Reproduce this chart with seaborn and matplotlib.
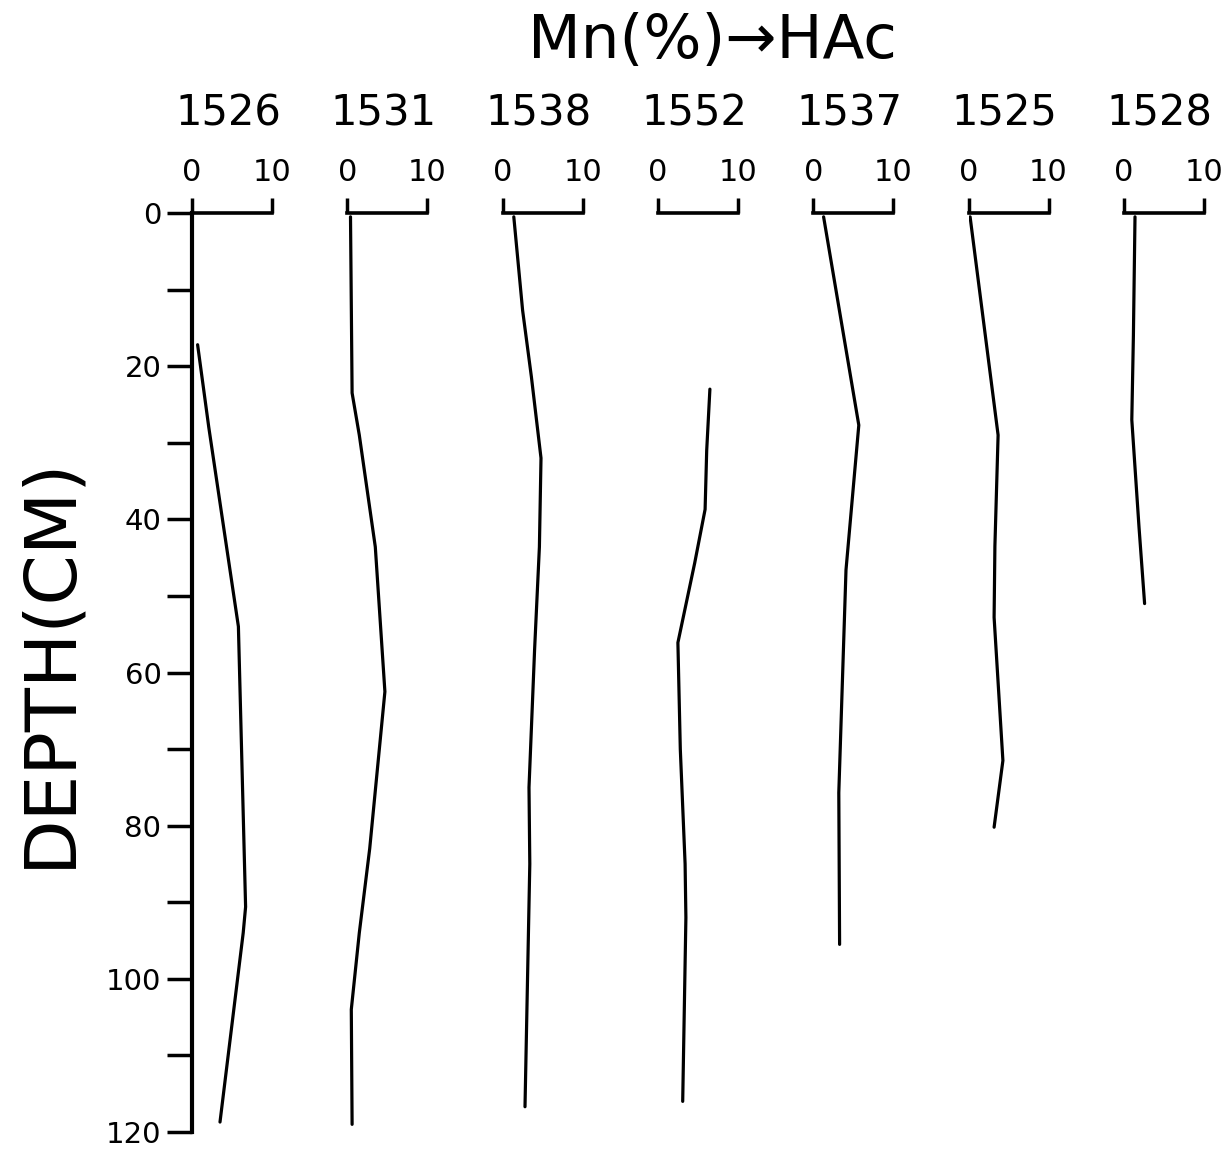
import matplotlib
matplotlib.use("Agg")
import matplotlib.pyplot as plt
import seaborn as sns

# Acetic-acid leachable Mn (%) down-core profiles for seven cores
cores = ["1526", "1531", "1538", "1552", "1537", "1525", "1528"]

depth_1526 = [17.2, 28.0, 54.0, 90.6, 94.0, 118.7]
mn_1526 = [0.7, 2.1, 5.8, 6.7, 6.4, 3.5]

depth_1531 = [0.5, 23.5, 29.0, 43.6, 62.5, 83.0, 94.0, 104.0, 119.0]
mn_1531 = [0.4, 0.6, 1.5, 3.5, 4.7, 2.8, 1.5, 0.5, 0.6]

depth_1538 = [0.5, 12.7, 21.4, 32.0, 43.6, 57.0, 75.0, 85.0, 116.7]
mn_1538 = [1.4, 2.5, 3.6, 4.8, 4.6, 4.0, 3.3, 3.4, 2.8]

depth_1552 = [23.0, 31.0, 38.7, 45.7, 56.1, 70.0, 85.0, 92.0, 116.0]
mn_1552 = [6.5, 6.1, 5.9, 4.6, 2.5, 2.8, 3.4, 3.5, 3.1]

depth_1537 = [0.5, 27.7, 46.6, 75.7, 95.5]
mn_1537 = [1.3, 5.7, 4.1, 3.2, 3.3]

depth_1525 = [0.5, 29.0, 43.5, 52.8, 71.5, 80.2]
mn_1525 = [0.2, 3.7, 3.3, 3.2, 4.3, 3.2]

depth_1528 = [0.5, 16.0, 27.0, 41.0, 51.0]
mn_1528 = [1.4, 1.2, 1.0, 1.9, 2.6]

depths = [depth_1526, depth_1531, depth_1538, depth_1552, depth_1537, depth_1525, depth_1528]
values = [mn_1526, mn_1531, mn_1538, mn_1552, mn_1537, mn_1525, mn_1528]

depth_ticks = [0, 10, 20, 30, 40, 50, 60, 70, 80, 90, 100, 110, 120]
depth_ticklabels = ["0", "", "20", "", "40", "", "60", "", "80", "", "100", "", "120"]
mn_ticks = [0, 10]
mn_ticklabels = ["0", "10"]

sns.set_style("white")
plt.rcParams["font.family"] = ["DejaVu Sans"]
plt.rcParams["text.color"] = "black"

W, H = 1221, 1151
fig = plt.figure(figsize=(W / 100, H / 100), dpi=100)
fig.patch.set_facecolor("white")

top_px, bottom_px = 213, 1132
first_left_px, step_px, width_px = 192, 155.3, 80

for i, (name, d, v) in enumerate(zip(cores, depths, values)):
    left = first_left_px + i * step_px
    ax = fig.add_axes([left / W, 1 - bottom_px / H, width_px / W, (bottom_px - top_px) / H])
    ax.set_facecolor("none")
    sns.lineplot(x=v, y=d, sort=False, estimator=None, color="black",
                 linewidth=2.3, ax=ax, legend=False)
    ax.set_xlim(0, 10)
    ax.set_ylim(120, 0)
    ax.set_xlabel("")
    ax.set_ylabel("")

    # short 0-10 scale bar on top of each profile
    ax.xaxis.tick_top()
    ax.set_xticks(mn_ticks)
    ax.set_xticklabels(mn_ticklabels)
    ax.tick_params(axis="x", top=True, bottom=False, direction="out", length=11,
                   width=2.5, pad=8, labelsize=22, colors="black")
    for side in ["right", "bottom"]:
        ax.spines[side].set_visible(False)
    ax.spines["top"].set_linewidth(2.6)
    ax.spines["top"].set_color("black")

    if i == 0:
        ax.spines["left"].set_linewidth(3.0)
        ax.spines["left"].set_color("black")
        ax.set_yticks(depth_ticks)
        ax.set_yticklabels(depth_ticklabels)
        ax.tick_params(axis="y", left=True, right=False, direction="out", length=18,
                       width=2.5, pad=4, labelsize=21, colors="black")
    else:
        ax.spines["left"].set_visible(False)
        ax.set_yticks([])

    fig.text((left + width_px / 2 - 4) / W, 1 - 113 / H, name,
             ha="center", va="center", fontsize=30)

fig.text(712 / W, 1 - 42 / H, "Mn(%)\u2192HAc", ha="center", va="center", fontsize=44)
fig.text(50 / W, 1 - 662 / H, "DEPTH(CM)", ha="center", va="center",
         rotation=90, fontsize=52)

fig.savefig("out.png", dpi=100, facecolor="white")
